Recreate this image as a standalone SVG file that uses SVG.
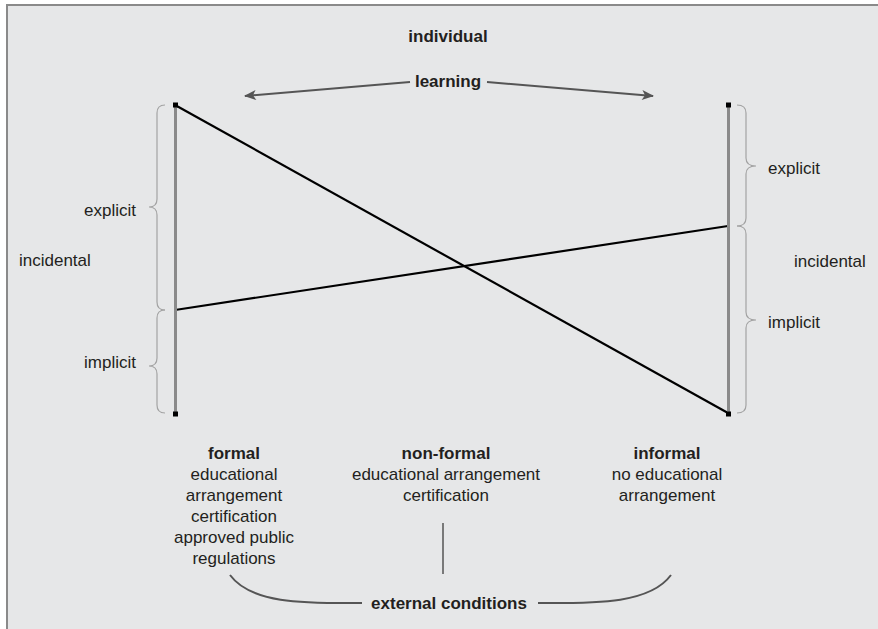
<svg xmlns="http://www.w3.org/2000/svg" width="878" height="629" viewBox="0 0 878 629">
<defs>
<style>
text{font-family:"Liberation Sans",Arial,sans-serif;font-size:17px;fill:#231f20}
.b{font-weight:bold}
.m{text-anchor:middle}
.e{text-anchor:end}
.bar{stroke:#8a8a8a;stroke-width:3;fill:none}
.brace{stroke:#a3a3a3;stroke-width:1.2;fill:none}
.cross{stroke:#000;stroke-width:2.2;fill:none}
.arr{stroke:#555;stroke-width:2;fill:none}
.curve{stroke:#555;stroke-width:2;fill:none}
</style>
<marker id="ah" viewBox="0 0 12 10" refX="11" refY="5" markerWidth="13" markerHeight="10" markerUnits="userSpaceOnUse" orient="auto">
<path d="M0,0 L12,5 L0,10 L3,5 Z" fill="#555"/>
</marker>
</defs>
<rect x="0" y="0" width="878" height="629" fill="#fff"/>
<rect x="7" y="5" width="871" height="624" fill="#e6e7e8"/>
<path d="M7,629 L7,5 L878,5" stroke="#8a8a8a" stroke-width="2" fill="none"/>

<g id="title">
<text class="b m" x="448" y="42">individual</text>
<text class="b m" x="448" y="87">learning</text>
</g>

<g id="connectors">
<line class="arr" x1="410" y1="82" x2="245" y2="96" marker-end="url(#ah)"/>
<line class="arr" x1="487" y1="82" x2="653" y2="96" marker-end="url(#ah)"/>
<line class="cross" x1="175" y1="105" x2="728" y2="413"/>
<line class="cross" x1="175" y1="310" x2="728" y2="226"/>
<line x1="443" y1="523" x2="443" y2="574" stroke="#555" stroke-width="1.5"/>
<path class="curve" d="M230,575 C252,605 310,603 362,603"/>
<path class="curve" d="M671,575 C649,605 591,603 538,603"/>
</g>

<g id="left-axis">
<line class="bar" x1="175.5" y1="105" x2="175.5" y2="414"/>
<rect x="173" y="102.5" width="5" height="5" fill="#000"/>
<rect x="173" y="411.5" width="5" height="5" fill="#000"/>
<path class="brace" d="M165,105 Q157,105 157,113 L157,199 Q157,207 149,207 Q157,207 157,215 L157,302 Q157,310 165,310"/>
<path class="brace" d="M165,310 Q157,310 157,318 L157,358 Q157,366 149,366 Q157,366 157,374 L157,405 Q157,413 165,413"/>
<text class="e" x="136" y="216">explicit</text>
<text x="19" y="266">incidental</text>
<text class="e" x="136" y="368">implicit</text>
</g>

<g id="right-axis">
<line class="bar" x1="728.5" y1="105" x2="728.5" y2="414"/>
<rect x="726" y="102.5" width="5" height="5" fill="#000"/>
<rect x="726" y="411.5" width="5" height="5" fill="#000"/>
<path class="brace" d="M737,105 Q746,105 746,113 L746,158 Q746,166 756,166 Q746,166 746,174 L746,218 Q746,226 737,226"/>
<path class="brace" d="M737,226 Q746,226 746,234 L746,312 Q746,320 756,320 Q746,320 746,328 L746,405 Q746,413 737,413"/>
<text x="768" y="174">explicit</text>
<text x="794" y="267">incidental</text>
<text x="768" y="328">implicit</text>
</g>

<g id="formal">
<text class="b m" x="234" y="459">formal</text>
<text class="m" x="234" y="480">educational</text>
<text class="m" x="234" y="501">arrangement</text>
<text class="m" x="234" y="522">certification</text>
<text class="m" x="234" y="543">approved public</text>
<text class="m" x="234" y="564">regulations</text>
</g>

<g id="non-formal">
<text class="b m" x="446" y="459">non-formal</text>
<text class="m" x="446" y="480">educational arrangement</text>
<text class="m" x="446" y="501">certification</text>
</g>

<g id="informal">
<text class="b m" x="667" y="459">informal</text>
<text class="m" x="667" y="480">no educational</text>
<text class="m" x="667" y="501">arrangement</text>
</g>

<g id="external">
<text class="b m" x="449" y="609">external conditions</text>
</g>
</svg>
